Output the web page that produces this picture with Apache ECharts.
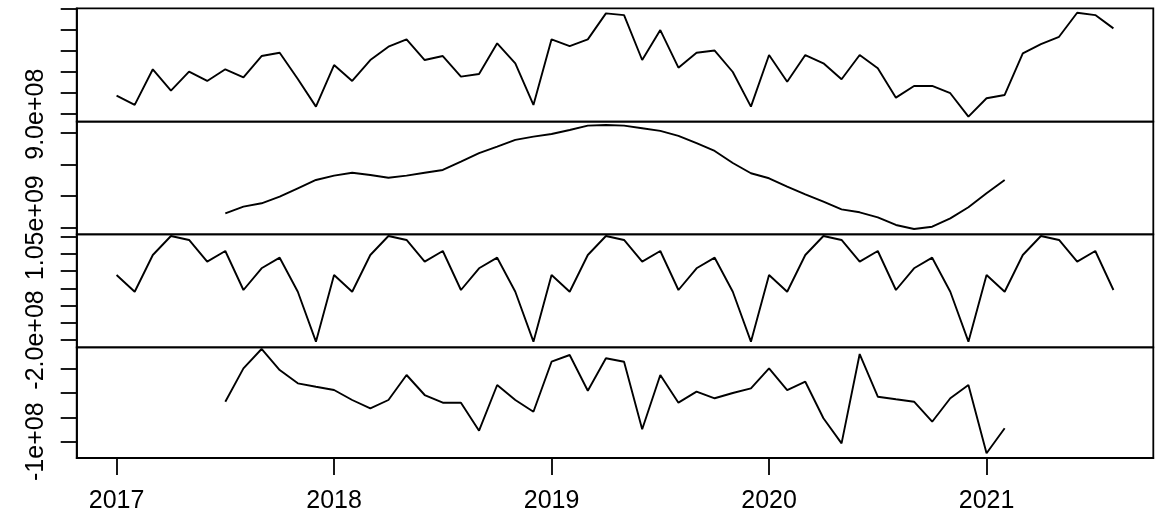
<!DOCTYPE html>
<html>
<head>
<meta charset="utf-8">
<script src="https://cdn.jsdelivr.net/npm/echarts@6/dist/echarts.min.js"></script>
<style>
  html, body { margin: 0; padding: 0; background: #fff; }
  #chart { width: 1168px; height: 519px; }
</style>
</head>
<body>
<div id="chart"></div>
<script>
// monthly series, Jan 2017 .. Aug 2021 (null = NA from the moving average)
const startYear = 2017
const yearTicks = [2017, 2018, 2019, 2020, 2021]

const observed = [
  987.7e6, 943.9e6, 1112.3e6, 1011.3e6, 1100.9e6, 1057.1e6, 1112.3e6, 1074.5e6, 1175.0e6, 1190.6e6, 1066.5e6, 935.8e6,
  1132.5e6, 1057.1e6, 1156.1e6, 1218.9e6, 1253.8e6, 1156.1e6, 1175.0e6, 1077.4e6, 1090.1e6, 1234.9e6, 1140.6e6, 943.9e6,
  1253.8e6, 1222.2e6, 1253.8e6, 1376.4e6, 1368.4e6, 1156.1e6, 1297.6e6, 1119.8e6, 1190.6e6, 1200.9e6, 1099.5e6, 935.8e6,
  1179.7e6, 1053.8e6, 1179.7e6, 1140.6e6, 1065.1e6, 1179.7e6, 1117.0e6, 978.3e6, 1033.5e6, 1033.5e6, 999.1e6, 888.7e6,
  975.5e6, 991.0e6, 1187.7e6, 1231.6e6, 1266.0e6, 1379.3e6, 1368.4e6, 1305.7e6
]

const trend = [
  null, null, null, null, null, null, 1072.7e6, 1083.2e6, 1088.5e6, 1098.9e6, 1112.2e6, 1125.3e6,
  1132.1e6, 1136.8e6, 1133.2e6, 1128.9e6, 1132.1e6, 1136.8e6, 1141.1e6, 1154.2e6, 1167.5e6, 1177.9e6, 1188.5e6, 1193.7e6,
  1197.9e6, 1204.2e6, 1211.0e6, 1212.1e6, 1211.0e6, 1206.9e6, 1202.7e6, 1194.8e6, 1183.3e6, 1171.1e6, 1152.1e6, 1135.9e6,
  1128.0e6, 1114.7e6, 1102.7e6, 1091.0e6, 1079.0e6, 1074.3e6, 1066.4e6, 1054.3e6, 1047.9e6, 1051.6e6, 1064.8e6, 1082.2e6,
  1104.3e6, 1125.3e6, null, null, null, null, null, null
]

const seasonal = [
  -11.1e6, -59.8e6, 46.8e6, 102.0e6, 90.4e6, 27.4e6, 58.4e6, -54.8e6, 8.2e6, 39.0e6, -59.8e6, -204.9e6,
  -11.1e6, -59.8e6, 46.8e6, 102.0e6, 90.4e6, 27.4e6, 58.4e6, -54.8e6, 8.2e6, 39.0e6, -59.8e6, -204.9e6,
  -11.1e6, -59.8e6, 46.8e6, 102.0e6, 90.4e6, 27.4e6, 58.4e6, -54.8e6, 8.2e6, 39.0e6, -59.8e6, -204.9e6,
  -11.1e6, -59.8e6, 46.8e6, 102.0e6, 90.4e6, 27.4e6, 58.4e6, -54.8e6, 8.2e6, 39.0e6, -59.8e6, -204.9e6,
  -11.1e6, -59.8e6, 46.8e6, 102.0e6, 90.4e6, 27.4e6, 58.4e6, -54.8e6
]

const random = [
  null, null, null, null, null, null, -18.2e6, 50.0e6, 89.6e6, 46.6e6, 19.4e6, 12.5e6,
  5.7e6, -14.7e6, -31.7e6, -14.7e6, 36.4e6, -4.5e6, -20.2e6, -20.2e6, -77.5e6, 16.0e6, -14.7e6, -38.7e6,
  63.6e6, 77.3e6, 4.3e6, 70.6e6, 63.6e6, -74.6e6, 36.4e6, -20.2e6, 2.3e6, -11.2e6, -0.4e6, 9.2e6,
  50.1e6, 5.7e6, 22.7e6, -52.1e6, -103.3e6, 79.3e6, -8.0e6, -13.3e6, -18.2e6, -59.1e6, -11.2e6, 16.0e6,
  -123.7e6, -72.6e6, null, null, null, null, null, null
]

// y ticks of each panel; only the lowest one gets a label (the others overlap in R)
const observedTicks = [9.0e8, 1.0e9, 1.1e9, 1.2e9, 1.3e9, 1.4e9]
const trendTicks = [1.05e9, 1.10e9, 1.15e9, 1.20e9]
const seasonalTicks = [-2.0e8, -1.5e8, -1.0e8, -5.0e7, 0, 5.0e7, 1.0e8]
const randomTicks = [-1e8, -5e7, 0, 5e7]
const tickLabels = ['9.0e+08', '1.05e+09', '-2.0e+08', '-1e+08']

const FONT = '"Liberation Sans", Arial, sans-serif'
const xMin = 2016.8167
const xMax = 2021.7667

const panels = [
  {values: observed, ticks: observedTicks, label: tickLabels[0], min: 8.651e8, max: 1.4005e9, top: 8.3, height: 113.3},
  {values: trend, ticks: trendTicks, label: tickLabels[1], min: 1.0396e9, max: 1.2174e9, top: 121.6, height: 112.7},
  {values: seasonal, ticks: seasonalTicks, label: tickLabels[2], min: -2.212e8, max: 1.069e8, top: 234.3, height: 113},
  {values: random, ticks: randomTicks, label: tickLabels[3], min: -1.333e8, max: 9.305e7, top: 347.3, height: 110.7}
]

const toPoints = values => values
  .map((v, i) => [startYear + i / 12, v])
  .filter(p => p[1] !== null)

const black = {color: '#000', width: 1.8}

const option = {
  animation: false,
  backgroundColor: '#fff',
  grid: panels.map(p => ({
    left: 76.7, right: 14.7, top: p.top, height: p.height,
    show: true, borderColor: '#000', borderWidth: 1.8
  })),
  xAxis: panels.map((p, i) => {
    const last = i === panels.length - 1
    return {
      type: 'value', gridIndex: i, min: xMin, max: xMax, show: last,
      position: 'bottom',
      axisLine: {show: true, onZero: false, lineStyle: black},
      axisTick: {show: true, customValues: yearTicks, length: 17, lineStyle: black},
      axisLabel: {
        customValues: yearTicks, formatter: v => String(v),
        fontSize: 25, fontFamily: FONT, color: '#000', margin: 31
      },
      splitLine: {show: false}
    }
  }),
  yAxis: panels.map((p, i) => ({
    type: 'value', gridIndex: i, min: p.min, max: p.max,
    axisLine: {show: true, onZero: false, lineStyle: black},
    axisTick: {show: true, customValues: p.ticks, length: 16, lineStyle: black},
    axisLabel: {
      customValues: [p.ticks[0]], formatter: () => p.label, rotate: 90,
      fontSize: 25, fontFamily: FONT, color: '#000', margin: 28
    },
    splitLine: {show: false}
  })),
  series: panels.map((p, i) => ({
    type: 'line', xAxisIndex: i, yAxisIndex: i,
    data: toPoints(p.values),
    showSymbol: false, silent: true,
    lineStyle: {color: '#000', width: 1.9}
  }))
}

const myChart = echarts.init(document.getElementById('chart'))
myChart.setOption(option)
</script>
</body>
</html>
